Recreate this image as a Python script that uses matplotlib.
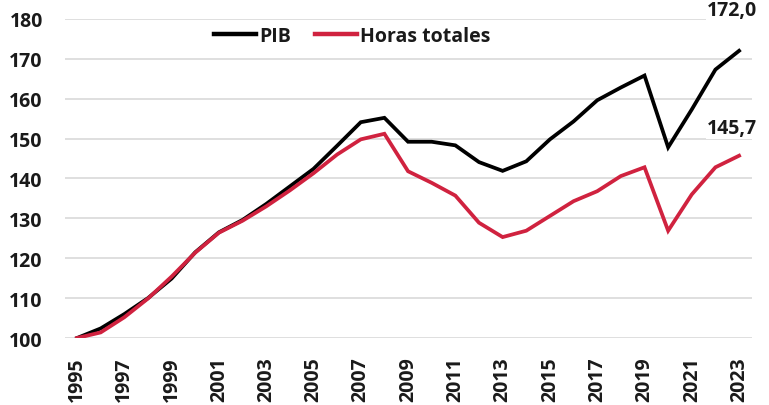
import matplotlib
matplotlib.use("Agg")
import matplotlib.pyplot as plt

years = list(range(1995, 2024))
pib = [100.0, 102.4, 106.0, 110.0, 114.9, 121.5, 126.5, 129.6, 133.6, 138.0,
       142.4, 148.2, 154.1, 155.2, 149.2, 149.2, 148.3, 144.1, 141.9, 144.3,
       149.8, 154.3, 159.6, 162.8, 165.8, 147.8, 157.3, 167.3, 172.0]
horas = [100.0, 101.4, 105.2, 109.9, 115.4, 121.4, 126.4, 129.4, 133.0, 137.0,
         141.3, 146.0, 149.8, 151.2, 141.8, 138.9, 135.7, 128.9, 125.3, 126.9,
         130.6, 134.3, 136.8, 140.6, 142.8, 126.9, 136.0, 142.8, 145.7]
labels = ["172,0", "145,7"]

plt.rcParams['font.family'] = ['Open Sans', 'DejaVu Sans']
fig = plt.figure(figsize=(7.69, 4.06), dpi=100)
ax = fig.add_axes([0.0845, 0.165, 0.8935, 0.786])

red = "#D0223F"
ax.plot(years, pib, color="black", lw=2.7, label="PIB", solid_joinstyle="miter", zorder=3)
ax.plot(years, horas, color=red, lw=2.7, label="Horas totales", solid_joinstyle="miter", zorder=3)

ax.set_ylim(100, 180)
ax.set_xlim(1994.49, 2023.55)
ax.set_yticks(range(100, 181, 10))
ax.set_xticks(years[::2])
ax.set_xticklabels([str(y) for y in years[::2]], rotation=90)
ax.grid(axis="y", color="#d9d9d9", lw=1.2, zorder=0)
ax.set_axisbelow(True)
for s in ax.spines.values():
    s.set_visible(False)
ax.tick_params(length=0, labelsize=14, colors="#1a1a1a")
ax.tick_params(axis="y", pad=16)
ax.tick_params(axis="x", pad=13)
for t in ax.get_xticklabels() + ax.get_yticklabels():
    t.set_fontweight("bold")

ax.annotate(labels[0], (years[-1], pib[-1]), xytext=(-5, 22), textcoords="offset points",
            ha="center", va="bottom", fontsize=14, fontweight="bold", color="#1a1a1a",
            bbox=dict(facecolor="white", edgecolor="none", pad=1))
ax.annotate(labels[1], (years[-1], horas[-1]), xytext=(-5, 13), textcoords="offset points",
            ha="center", va="bottom", fontsize=14, fontweight="bold", color="#1a1a1a",
            bbox=dict(facecolor="white", edgecolor="none", pad=1))

leg = ax.legend(loc="center", bbox_to_anchor=(0.418, 0.947), ncol=2, frameon=True,
                fontsize=14, handlelength=2.2, handletextpad=0.15, columnspacing=1.2,
                borderaxespad=0, borderpad=0.2)
leg.get_frame().set_edgecolor("none")
leg.get_frame().set_facecolor("white")
leg.get_frame().set_alpha(1)
for t in leg.get_texts():
    t.set_fontweight("bold")
    t.set_color("#1a1a1a")
for h in leg.get_lines():
    h.set_linewidth(3.2)

fig.savefig("out.png", dpi=100)
